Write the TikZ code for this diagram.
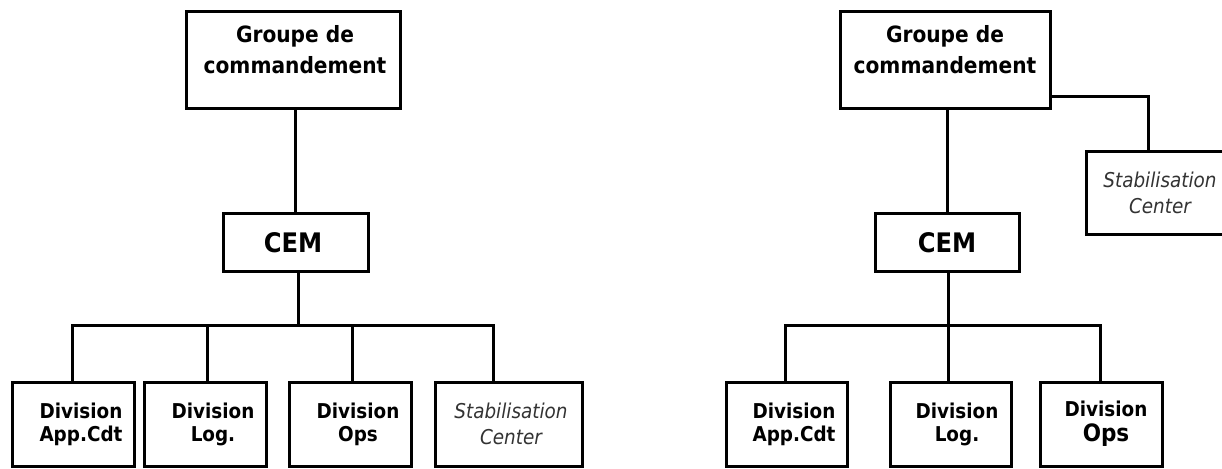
\documentclass[tikz,border=0pt]{standalone}
\usepackage{fontspec}
\newfontfamily\dvc{DejaVu Sans Condensed}
\begin{document}
\begin{tikzpicture}[x=1bp,y=-1bp,
  box/.style={draw=black, line width=3bp, inner sep=0pt, minimum height=84bp},
  wire/.style={draw=black, line width=3bp, line join=miter},
  txt/.style={align=center, inner sep=0pt, font=\dvc\bfseries\fontsize{20.5}{23}\selectfont},
  toptxt/.style={align=center, inner sep=0pt, font=\dvc\bfseries\fontsize{22.5}{31}\selectfont},
  cemtxt/.style={inner sep=0pt, font=\dvc\bfseries\fontsize{27}{30}\selectfont},
  ital/.style={align=center, inner sep=0pt, text=black!80, font=\dvc\itshape\fontsize{20.5}{26}\selectfont}]
\useasboundingbox (0,0) rectangle (1222,469);
\fill[white] (0,0) rectangle (1222,469);
% ---------- left chart ----------
\node[box, minimum width=214bp, minimum height=97bp] (G1) at (293,60.5) {};
\node[toptxt] (G1t) at (295,50) {Groupe de\\commandement};
\node[box, minimum width=145bp, minimum height=58bp] (C1) at (295.5,243) {};
\node[cemtxt] (C1t) at (293,243) {CEM};
\node[box, minimum width=121bp] (B1) at (73.5,425) {};
\node[box, minimum width=122bp] (B2) at (205,425) {};
\node[box, minimum width=122bp] (B3) at (350,425) {};
\node[box, minimum width=147bp] (B4) at (508.5,425) {};
\node[txt] (B1t) at (81,424) {Division\\App.Cdt};
\node[txt] (B2t) at (213,424) {Division\\Log.};
\node[txt] (B3t) at (358,424) {Division\\Ops};
\node[ital] (B4t) at (511,424) {Stabilisation\\Center};
\coordinate (d1) at (72,326);
\coordinate (d2) at (207,326);
\coordinate (d3) at (352,326);
\coordinate (d4) at (493,326);
\coordinate (j1) at (298,326);
\draw[wire] (C1.north) -- (C1.north |- G1.south);
\draw[wire] (C1.south -| j1) -- (j1);
\draw[wire] (d1 |- B1.north) -- (d1) -- (d4) -- (d4 |- B4.north);
\draw[wire] (d2) -- (d2 |- B2.north);
\draw[wire] (d3) -- (d3 |- B3.north);
% ---------- right chart ----------
\node[box, minimum width=210bp, minimum height=97bp] (G2) at (945,60.5) {};
\node[toptxt] (G2t) at (945,50) {Groupe de\\commandement};
\node[box, minimum width=144bp, minimum height=58bp] (C2) at (947,243) {};
\node[cemtxt] (C2t) at (947,243) {CEM};
\node[box, minimum width=154bp, minimum height=83bp] (S2) at (1163,193.5) {};
\node[ital] (S2t) at (1160,193) {Stabilisation\\Center};
\node[box, minimum width=121bp] (R1) at (786.5,425) {};
\node[box, minimum width=121bp] (R2) at (950.5,425) {};
\node[box, minimum width=122bp] (R3) at (1101,425) {};
\node[txt] (R1t) at (794,424) {Division\\App.Cdt};
\node[txt] (R2t) at (957,424) {Division\\Log.};
\node[txt] (R3t) at (1106,424) {Division\\[2bp]{\fontsize{24}{24}\selectfont Ops}};
\coordinate (br) at (1148,97);
\coordinate (e1) at (785,326);
\coordinate (e2) at (948,326);
\coordinate (e3) at (1100,326);
\draw[wire] (C2.north) -- (C2.north |- G2.south);
\draw[wire] (G2.east |- br) -- (br) -- (br |- S2.north);
\draw[wire] (C2.south -| e2) -- (e2);
\draw[wire] (e1 |- R1.north) -- (e1) -- (e3) -- (e3 |- R3.north);
\draw[wire] (e2) -- (e2 |- R2.north);
\end{tikzpicture}
\end{document}
